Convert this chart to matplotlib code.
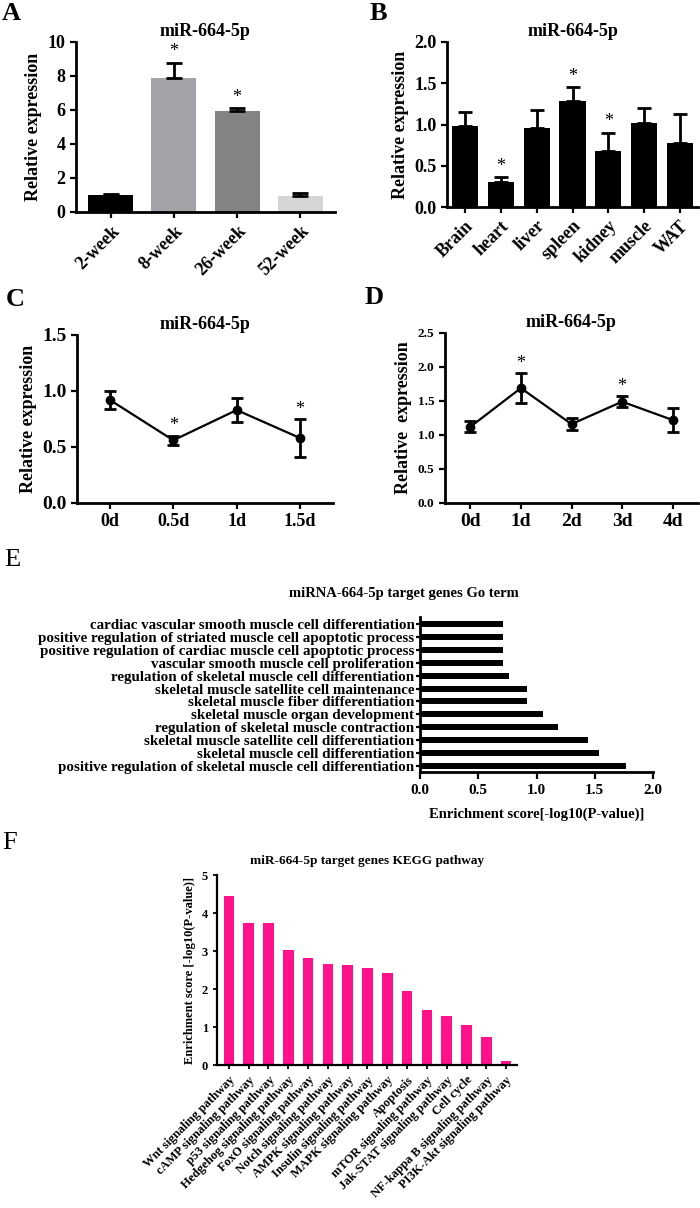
import matplotlib
matplotlib.use("Agg")
import matplotlib.pyplot as plt

plt.rcParams['font.family'] = ['Liberation Serif', 'DejaVu Serif']
plt.rcParams['font.weight'] = 'bold'
plt.rcParams['axes.titleweight'] = 'bold'
plt.rcParams['axes.labelweight'] = 'bold'

# panel A data
weeks = ['2-week', '8-week', '26-week', '52-week']
week_vals = [1.02, 7.9, 5.94, 0.96]
week_errs = [0.06, 0.88, 0.16, 0.17]
week_colors = ['#000000', '#a3a3a9', '#838383', '#d5d5d5']
week_stars = [1, 2]

# panel B data
tissues = ['Brain', 'heart', 'liver', 'spleen', 'kidney', 'muscle', 'WAT']
tissue_vals = [0.98, 0.30, 0.96, 1.28, 0.68, 1.02, 0.78]
tissue_errs = [0.17, 0.06, 0.22, 0.17, 0.22, 0.18, 0.35]
tissue_stars = [1, 3, 4]

# panel C data
days_c = ['0d', '0.5d', '1d', '1.5d']
vals_c = [0.92, 0.56, 0.83, 0.58]
errs_c = [0.08, 0.04, 0.11, 0.17]
stars_c = [1, 3]

# panel D data
days_d = ['0d', '1d', '2d', '3d', '4d']
vals_d = [1.12, 1.69, 1.16, 1.49, 1.22]
errs_d = [0.08, 0.22, 0.09, 0.08, 0.18]
stars_d = [1, 3]

# panel E data (bottom to top)
go_terms = ['positive regulation of skeletal muscle cell differentiation',
            'skeletal muscle cell differentiation',
            'skeletal muscle satellite cell differentiation',
            'regulation of skeletal muscle contraction',
            'skeletal muscle organ development',
            'skeletal muscle fiber differentiation',
            'skeletal muscle satellite cell maintenance',
            'regulation of skeletal muscle cell differentiation',
            'vascular smooth muscle cell proliferation',
            'positive regulation of cardiac muscle cell apoptotic process',
            'positive regulation of striated muscle cell apoptotic process',
            'cardiac vascular smooth muscle cell differentiation']
go_scores = [1.765, 1.54, 1.44, 1.185, 1.057, 0.917, 0.917, 0.766, 0.714, 0.714, 0.714, 0.714]

# panel F data
pathways = ['Wnt signaling pathway', 'cAMP signaling pathway', 'p53 signaling pathway',
            'Hedgehog signaling pathway', 'FoxO signaling pathway', 'Notch signaling pathway',
            'AMPK signaling pathway', 'Insulin signaling pathway', 'MAPK signaling pathway',
            'Apoptosis', 'mTOR signaling pathway', 'Jak-STAT signaling pathway', 'Cell cycle',
            'NF-kappa B signaling pathway', 'PI3K-Akt signaling pathway']
kegg_scores = [4.46, 3.745, 3.73, 3.02, 2.82, 2.67, 2.62, 2.54, 2.41, 1.95, 1.45, 1.29, 1.04, 0.74, 0.11]

W, H = 700, 1208
fig = plt.figure(figsize=(W / 100, H / 100), dpi=100)


def axes_px(x0, y0, x1, y1):
    # pixel box (top-left origin) -> figure axes
    return fig.add_axes([x0 / W, 1 - y1 / H, (x1 - x0) / W, (y1 - y0) / H])


def style(ax, lw=2.0, tlen=4, fs=12):
    for s in ['top', 'right']:
        ax.spines[s].set_visible(False)
    for s in ['left', 'bottom']:
        ax.spines[s].set_linewidth(lw)
    ax.tick_params(width=lw * 0.8, length=tlen, labelsize=fs)


def stars(ax, idx, vals, errs, off=2):
    for i in idx:
        ax.annotate('*', (i, vals[i] + errs[i]), xytext=(0, off), textcoords='offset points',
                    ha='center', va='bottom', fontsize=13, fontweight='normal')


# ---- A ----
ax = axes_px(76, 42, 335, 212)
xa = range(len(weeks))
ax.bar(xa, week_vals, width=0.71, color=week_colors)
ax.errorbar(xa, week_vals, yerr=[[0] * len(weeks), week_errs], fmt='none', ecolor='black',
            elinewidth=2, capsize=6, capthick=2)
ax.set_xlim(-0.55, 3.55)
ax.set_ylim(0, 10)
ax.set_yticks([0, 2, 4, 6, 8, 10])
ax.set_xticks(list(xa))
ax.set_xticklabels(weeks, rotation=45, ha='right', rotation_mode='anchor')
style(ax, fs=13)
ax.set_ylabel('Relative expression', fontsize=13)
ax.set_title('miR-664-5p', fontsize=13, pad=4)
stars(ax, week_stars, week_vals, week_errs)

# ---- B ----
ax = axes_px(447, 42, 698, 207)
xb = range(len(tissues))
ax.bar(xb, tissue_vals, width=0.73, color='black')
ax.errorbar(xb, tissue_vals, yerr=[[0] * len(tissues), tissue_errs], fmt='none', ecolor='black',
            elinewidth=2, capsize=5, capthick=2)
ax.set_xlim(-0.5, 6.5)
ax.set_ylim(0, 2)
ax.set_yticks([0, 0.5, 1.0, 1.5, 2.0])
ax.set_yticklabels(['0.0', '0.5', '1.0', '1.5', '2.0'])
ax.set_xticks(list(xb))
ax.set_xticklabels(tissues, rotation=45, ha='right', rotation_mode='anchor')
style(ax, fs=13)
ax.set_ylabel('Relative expression', fontsize=13)
ax.set_title('miR-664-5p', fontsize=13, pad=4)
stars(ax, tissue_stars, tissue_vals, tissue_errs)

# ---- C ----
ax = axes_px(77, 335, 333, 503)
xc = range(len(days_c))
ax.errorbar(xc, vals_c, yerr=errs_c, fmt='-o', color='black', ms=6, lw=1.6,
            elinewidth=2, capsize=4, capthick=2)
ax.set_xlim(-0.52, 3.52)
ax.set_ylim(0, 1.5)
ax.set_yticks([0, 0.5, 1.0, 1.5])
ax.set_yticklabels(['0.0', '0.5', '1.0', '1.5'])
ax.set_xticks(list(xc))
ax.set_xticklabels(days_c)
style(ax, fs=13)
ax.tick_params(axis='y', labelsize=14)
ax.set_ylabel('Relative expression', fontsize=13)
ax.set_title('miR-664-5p', fontsize=13, pad=4)
stars(ax, stars_c, vals_c, errs_c, off=1)

# ---- D ----
ax = axes_px(445, 333, 698, 503)
xd = range(len(days_d))
ax.errorbar(xd, vals_d, yerr=errs_d, fmt='-o', color='black', ms=6, lw=1.6,
            elinewidth=2, capsize=4, capthick=2)
ax.set_xlim(-0.5, 4.5)
ax.set_ylim(0, 2.5)
ax.set_yticks([0, 0.5, 1.0, 1.5, 2.0, 2.5])
ax.set_yticklabels(['0.0', '0.5', '1.0', '1.5', '2.0', '2.5'])
ax.set_xticks(list(xd))
ax.set_xticklabels(days_d)
style(ax, fs=14)
ax.tick_params(axis='y', labelsize=9.5)
ax.set_ylabel('Relative  expression', fontsize=13)
ax.set_title('miR-664-5p', fontsize=13, pad=4)
stars(ax, stars_d, vals_d, errs_d, off=1)

# ---- E ----
ax = axes_px(420, 617, 653, 772)
ye = range(len(go_terms))
ax.barh(ye, go_scores, height=0.47, color='black')
ax.set_xlim(0, 2)
ax.set_ylim(-0.47, 11.55)
ax.set_xticks([0, 0.5, 1.0, 1.5, 2.0])
ax.set_xticklabels(['0.0', '0.5', '1.0', '1.5', '2.0'])
ax.set_yticks(list(ye))
ax.set_yticklabels(go_terms)
style(ax, lw=2.0, tlen=3, fs=10.8)
ax.tick_params(axis='x', labelsize=11, length=5)
ax.tick_params(axis='y', pad=1)
ax.set_xlabel('Enrichment score[-log10(P-value)]', fontsize=10.5, labelpad=8)
fig.text(404 / W, 1 - 593 / H, 'miRNA-664-5p target genes Go term', ha='center', va='center',
         fontsize=10.5, fontweight='bold')

# ---- F ----
ax = axes_px(217, 875, 517, 1065)
xf = range(len(pathways))
ax.bar(xf, kegg_scores, width=0.54, color='#ff118c')
ax.set_xlim(-0.6, 14.55)
ax.set_ylim(0, 5)
ax.set_yticks(range(6))
ax.set_xticks(list(xf))
ax.set_xticklabels(pathways, rotation=45, ha='right', rotation_mode='anchor')
style(ax, lw=1.6, tlen=3, fs=9)
ax.set_ylabel('Enrichment score [-log10(P-value)]', fontsize=9)
ax.set_title('miR-664-5p target genes KEGG pathway', fontsize=9.5, pad=8)

# panel letters
for letter, x, y, wt in [('A', 11, 13, 'bold'), ('B', 378, 13, 'bold'), ('C', 15, 300, 'bold'),
                         ('D', 374, 298, 'bold'), ('E', 12, 560, 'normal'), ('F', 10, 843, 'normal')]:
    fig.text(x / W, 1 - y / H, letter, ha='center', va='center', fontsize=19, fontweight=wt)

fig.savefig('out.png', dpi=100)
